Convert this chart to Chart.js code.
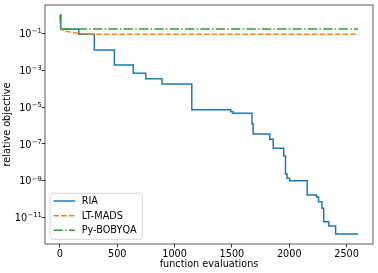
<!DOCTYPE html>
<html>
<head>
<meta charset="utf-8">
<script src="https://cdn.jsdelivr.net/npm/chart.js@4.4.1/dist/chart.umd.min.js"></script>
<style>
html,body{margin:0;padding:0;background:#fff;}
#wrap{width:378px;height:273px;}
</style>
</head>
<body>
<div id="wrap"><canvas id="c" width="378" height="273"></canvas></div>
<script>
// ---- data ----
const riaX = [0, 8, 165, 300, 475, 640, 748, 890, 1150, 1490, 1510, 1675, 1685, 1830, 1860, 1952, 1967, 1980, 2003, 2156, 2237, 2255, 2285, 2300, 2345, 2404, 2600];
const riaY = [1.0, 0.17, 0.091, 0.0126, 0.00195, 6.9e-4, 3.5e-4, 1.8e-4, 7.2e-6, 5.6e-6, 4.6e-6, 1.26e-6, 3.5e-7, 1.8e-7, 5.8e-8, 2.2e-8, 2.3e-9, 1.35e-9, 1.0e-9, 1.66e-10, 1.3e-10, 7.1e-11, 3.2e-11, 5.9e-12, 3.5e-12, 1.26e-12, 1.26e-12];
const madsX = [0, 20, 60, 120, 170, 250, 2600];
const madsY = [0.24, 0.16, 0.13, 0.112, 0.1, 0.091, 0.091];
const bobyqaX = [0, 8, 2600];
const bobyqaY = [1.0, 0.176, 0.176];
const seriesLabels = ['RIA', 'LT-MADS', 'Py-BOBYQA'];
const xTicks = [0, 500, 1000, 1500, 2000, 2500];
const yTicks = [1e-11, 1e-9, 1e-7, 1e-5, 1e-3, 1e-1];
const yTickExponents = ['−11', '−9', '−7', '−5', '−3', '−1'];
const xTitle = 'function evaluations';
const yTitle = 'relative objective';

const pts = (xs, ys) => xs.map((x, i) => ({x: x, y: ys[i]}));
const FAMILY = '"DejaVu Sans", sans-serif';
const FONT = {family: FAMILY, size: 9.7};

const frameAndLegend = {
  id: 'frameAndLegend',
  afterDatasetsDraw(chart) {
    const ctx = chart.ctx, a = chart.chartArea;
    ctx.save();
    // frame
    ctx.strokeStyle = '#333';
    ctx.lineWidth = 0.8;
    ctx.strokeRect(a.left, a.top, a.right - a.left, a.bottom - a.top);
    // y tick labels as 10 with superscript exponent
    const ys = chart.scales.y;
    ctx.fillStyle = '#000';
    ctx.textBaseline = 'alphabetic';
    yTicks.forEach((v, i) => {
      const py = ys.getPixelForValue(v);
      const right = 41.8;
      ctx.font = (FONT.size * 0.7) + 'px ' + FAMILY;
      const ew = ctx.measureText(yTickExponents[i]).width;
      ctx.textAlign = 'left';
      ctx.fillText(yTickExponents[i], right - ew, py - 0.2);
      ctx.font = FONT.size + 'px ' + FAMILY;
      ctx.textAlign = 'right';
      ctx.fillText('10', right - ew - 0.3, py + 3.6);
    });
    // legend
    const bx = 50, by = 193.3, bw = 92.3, bh = 46, r = 2.5;
    ctx.beginPath();
    ctx.moveTo(bx + r, by);
    ctx.arcTo(bx + bw, by, bx + bw, by + bh, r);
    ctx.arcTo(bx + bw, by + bh, bx, by + bh, r);
    ctx.arcTo(bx, by + bh, bx, by, r);
    ctx.arcTo(bx, by, bx + bw, by, r);
    ctx.closePath();
    ctx.fillStyle = 'rgba(255,255,255,0.8)';
    ctx.fill();
    ctx.strokeStyle = '#cccccc';
    ctx.lineWidth = 0.8;
    ctx.stroke();
    const rows = [201, 215.8, 230.2];
    chart.data.datasets.forEach((ds, i) => {
      const y = rows[i];
      ctx.beginPath();
      ctx.setLineDash(ds.borderDash || []);
      ctx.strokeStyle = ds.borderColor;
      ctx.lineWidth = ds.borderWidth;
      ctx.moveTo(53.5, y);
      ctx.lineTo(75, y);
      ctx.stroke();
      ctx.setLineDash([]);
      ctx.fillStyle = '#000';
      ctx.font = FONT.size + 'px ' + FAMILY;
      ctx.textBaseline = 'middle';
      ctx.textAlign = 'left';
      ctx.fillText(ds.label, 81.7, y + 0.5);
    });
    ctx.restore();
  }
};

new Chart(document.getElementById('c'), {
  type: 'line',
  data: {
    datasets: [
      {label: seriesLabels[0], data: pts(riaX, riaY), borderColor: '#1f77b4', borderWidth: 1.5, stepped: true, pointRadius: 0, order: 3},
      {label: seriesLabels[1], data: pts(madsX, madsY), borderColor: '#ff7f0e', borderWidth: 1.5, borderDash: [5.4, 2.3], pointRadius: 0, order: 2},
      {label: seriesLabels[2], data: pts(bobyqaX, bobyqaY), borderColor: '#2ca02c', borderWidth: 1.5, borderDash: [9.3, 2.3, 1.45, 2.3], pointRadius: 0, order: 1}
    ]
  },
  options: {
    responsive: false,
    animation: false,
    devicePixelRatio: 1,
    layout: {padding: {left: 0, right: 5, top: 5, bottom: 0}},
    plugins: {legend: {display: false}, tooltip: {enabled: false}},
    elements: {line: {tension: 0, fill: false}},
    scales: {
      x: {
        type: 'linear',
        min: -130, max: 2730,
        afterBuildTicks: s => { s.ticks = xTicks.map(v => ({value: v})); },
        afterFit: s => { s.height = 29; },
        grid: {display: true, drawOnChartArea: false, drawTicks: true, tickLength: 3.4, color: '#000', lineWidth: 0.8},
        border: {display: false},
        ticks: {color: '#000', font: FONT, padding: 1, maxRotation: 0, autoSkip: false, callback: v => String(v)},
        title: {display: true, text: xTitle, color: '#000', font: FONT, padding: {top: 0, bottom: 3.2}}
      },
      y: {
        type: 'logarithmic',
        min: Math.pow(10, -12.44), max: Math.pow(10, 0.549),
        afterBuildTicks: s => { s.ticks = yTicks.map(v => ({value: v})); },
        afterFit: s => { s.width = 45; },
        grid: {display: true, drawOnChartArea: false, drawTicks: true, tickLength: 3.4, color: '#000', lineWidth: 0.8},
        border: {display: false},
        ticks: {display: false, autoSkip: false},
        title: {display: true, text: yTitle, color: '#000', font: FONT, padding: {top: 1.2, bottom: 0}}
      }
    }
  },
  plugins: [frameAndLegend]
});
</script>
</body>
</html>
